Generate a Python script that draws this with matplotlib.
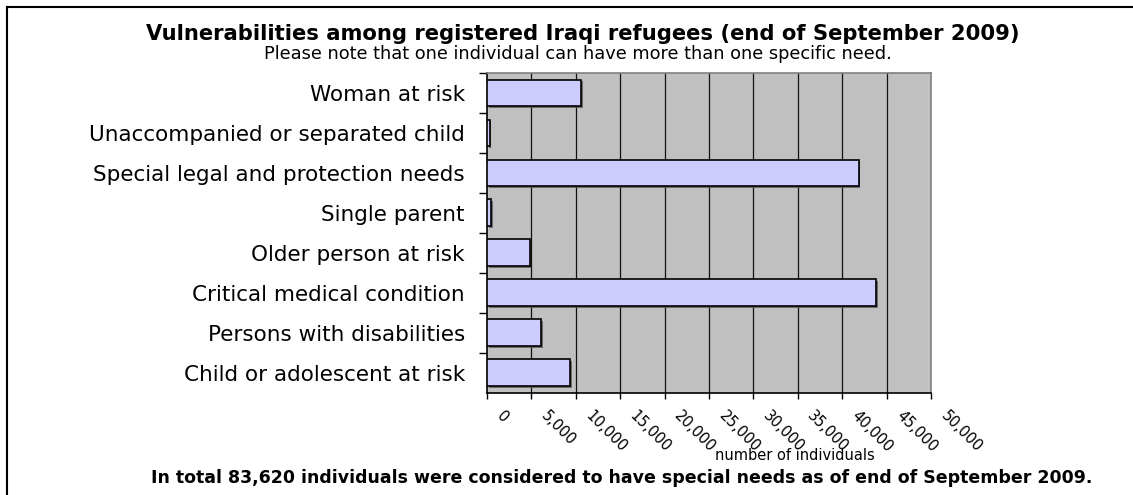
import matplotlib
matplotlib.use("Agg")
import matplotlib.pyplot as plt
from matplotlib.lines import Line2D
from matplotlib.ticker import FuncFormatter
from matplotlib.transforms import ScaledTranslation
import matplotlib.patheffects as pe

# Specific needs, listed top to bottom
categories = [
    "Woman at risk",
    "Unaccompanied or separated child",
    "Special legal and protection needs",
    "Single parent",
    "Older person at risk",
    "Critical medical condition",
    "Persons with disabilities",
    "Child or adolescent at risk",
]
individuals = [10600, 300, 41850, 480, 4800, 43850, 6100, 9350]
x_ticks = [0, 5000, 10000, 15000, 20000, 25000, 30000, 35000, 40000, 45000, 50000]

title = "Vulnerabilities among registered Iraqi refugees (end of September 2009)"
subtitle = "Please note that one individual can have more than one specific need."
x_label = "number of individuals"
footer = ("In total 83,620 individuals were considered to have special needs "
          "as of end of September 2009.")

W, H = 1133, 495
fig = plt.figure(figsize=(W / 100, H / 100), dpi=100)
fig.patch.set_facecolor("white")

ax = fig.add_axes([487 / W, 1 - 392.7 / H, (931 - 487) / W, (392.7 - 73) / H])
ax.set_facecolor("#C0C0C0")

ypos = list(range(len(categories)))[::-1]
bars = ax.barh(ypos, individuals, height=0.67, color="#CCCCFF",
               edgecolor="black", linewidth=1.2, zorder=3)
for b in bars:
    b.set_path_effects([pe.SimplePatchShadow(offset=(1.2, -1.2), shadow_rgbFace="#555555", alpha=0.8),
                        pe.Normal()])

ax.set_xlim(0, 50000)
ax.set_ylim(-0.5, len(categories) - 0.5)

# vertical gridlines
for t in x_ticks[1:-1]:
    ax.axvline(t, color="#111111", linewidth=0.9, zorder=1)

ax.set_xticks(x_ticks)
ax.xaxis.set_major_formatter(FuncFormatter(lambda v, p: f"{int(v):,}"))
ax.tick_params(axis="x", direction="out", length=4, width=1, color="black", pad=11,
               labelsize=10.5)
shift = ScaledTranslation(12 / 100, 0, fig.dpi_scale_trans)
for lab in ax.get_xticklabels():
    lab.set_rotation(-45)
    lab.set_rotation_mode("anchor")
    lab.set_ha("left")
    lab.set_va("center")
    lab.set_fontfamily("DejaVu Sans")
    lab.set_transform(lab.get_transform() + shift)

ax.set_yticks(ypos)
ax.set_yticklabels(categories, fontfamily="DejaVu Sans", fontsize=15.5)
ax.set_yticks([y + 0.5 for y in range(len(categories))], minor=True)
ax.tick_params(axis="y", which="major", length=0, pad=16)
ax.tick_params(axis="y", which="minor", direction="out", length=6, width=1, color="black")

for side in ("top", "right"):
    ax.spines[side].set_color("#808080")
    ax.spines[side].set_linewidth(1.2)
ax.spines["left"].set_color("black")
ax.spines["bottom"].set_color("black")
ax.spines["left"].set_linewidth(1.2)
ax.spines["bottom"].set_linewidth(1.2)

fig.text(795 / W, 1 - 456 / H, x_label, ha="center", va="center",
         fontsize=10.5, fontfamily="DejaVu Sans")

fig.text(583 / W, 1 - 34 / H, title, ha="center", va="center",
         fontsize=15.2, fontweight="bold", fontfamily="DejaVu Sans")
fig.text(578 / W, 1 - 54 / H, subtitle, ha="center", va="center",
         fontsize=12.8, fontfamily="DejaVu Sans")
fig.text(622 / W, 1 - 478 / H, footer, ha="center", va="center",
         fontsize=12.5, fontweight="bold", fontfamily="DejaVu Sans")

# outer frame: left and top edges
fig.add_artist(Line2D([7 / W, 7 / W], [0, 1 - 7 / H], transform=fig.transFigure,
                      color="black", linewidth=1.5))
fig.add_artist(Line2D([7 / W, 1], [1 - 7 / H, 1 - 7 / H], transform=fig.transFigure,
                      color="black", linewidth=1.5))

fig.savefig("out.png", dpi=100)
